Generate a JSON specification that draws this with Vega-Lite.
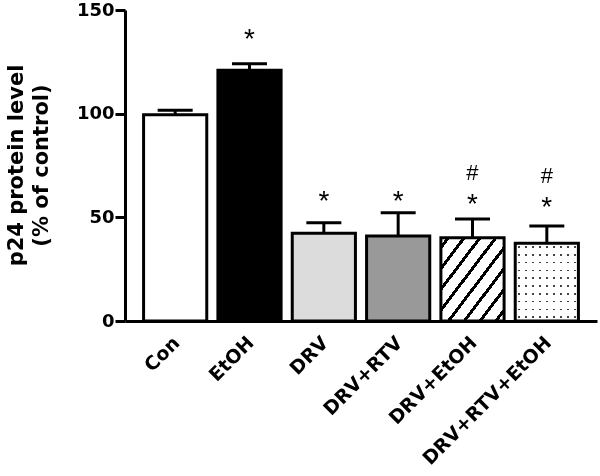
{
  "$schema": "https://vega.github.io/schema/vega-lite/v6.json",
  "width": 472,
  "height": 311,
  "autosize": {"type": "none"},
  "padding": {"left": 125, "top": 10, "right": 3, "bottom": 155},
  "background": "white",
  "config": {"view": {"stroke": null}, "font": "DejaVu Sans"},
  "resolve": {"axis": {"y": "independent"}},
  "data": {
    "values": [
      {"group": "Con", "value": 99.5, "upper": 101.6, "star": null, "hash": null},
      {"group": "EtOH", "value": 121, "upper": 124.1, "star": 137, "hash": null},
      {"group": "DRV", "value": 42.3, "upper": 47.4, "star": 58.8, "hash": null},
      {"group": "DRV+RTV", "value": 41, "upper": 52.2, "star": 58.8, "hash": null},
      {"group": "DRV+EtOH", "value": 40.2, "upper": 49.2, "star": 57.3, "hash": 71},
      {"group": "DRV+RTV+EtOH", "value": 37.5, "upper": 45.8, "star": 56, "hash": 69.5}
    ]
  },
  "encoding": {
    "x": {
      "field": "group",
      "type": "nominal",
      "sort": null,
      "scale": {"paddingInner": 0.15, "paddingOuter": 0.25},
      "axis": {
        "title": null,
        "ticks": false,
        "domainWidth": 3,
        "domainColor": "black",
        "labelAngle": -45,
        "labelFont": "DejaVu Sans",
        "labelFontWeight": "bold",
        "labelFontSize": 19,
        "labelColor": "black",
        "labelPadding": 12,
        "labelOffset": -5,
        "labelLimit": 0
      }
    }
  },
  "layer": [
    {
      "mark": {"type": "bar", "strokeWidth": 0},
      "encoding": {
        "y": {
          "field": "value",
          "type": "quantitative",
          "scale": {"domain": [0, 150], "nice": false, "zero": true},
          "axis": {
            "values": [0, 50, 100, 150],
            "grid": false,
            "domainWidth": 3,
            "domainColor": "black",
            "tickWidth": 3,
            "tickSize": 10,
            "tickColor": "black",
            "labelFont": "DejaVu Sans",
            "labelFontWeight": "bold",
            "labelFontSize": 18,
            "labelColor": "black",
            "labelPadding": 1,
            "title": ["p24 protein level", "(% of control)"],
            "titleFont": "DejaVu Sans",
            "titleFontWeight": "bold",
            "titleFontSize": 21,
            "titleColor": "black",
            "titleAngle": -90,
            "titleX": -120,
            "titleY": 155,
            "titleAlign": "center",
            "titleBaseline": "top",
            "titleLineHeight": 25
          }
        },
        "fill": {
          "field": "group",
          "type": "nominal",
          "scale": {
            "domain": ["Con", "EtOH", "DRV", "DRV+RTV", "DRV+EtOH", "DRV+RTV+EtOH"],
            "range": ["white", "black", "#dcdcdc", "#999999", "white", "white"]
          },
          "legend": null
        }
      }
    },
    {
      "transform": [{"filter": "datum.group == 'DRV+EtOH'"}],
      "mark": {
        "type": "bar",
        "strokeWidth": 0,
        "fill": {
          "gradient": "linear",
          "x1": 0, "y1": 0, "x2": 1, "y2": 1,
          "stops": [
            {"offset": 0, "color": "white"},
            {"offset": 0.045, "color": "white"}, {"offset": 0.045, "color": "black"}, {"offset": 0.075, "color": "black"}, {"offset": 0.075, "color": "white"},
            {"offset": 0.17, "color": "white"}, {"offset": 0.17, "color": "black"}, {"offset": 0.2, "color": "black"}, {"offset": 0.2, "color": "white"},
            {"offset": 0.295, "color": "white"}, {"offset": 0.295, "color": "black"}, {"offset": 0.325, "color": "black"}, {"offset": 0.325, "color": "white"},
            {"offset": 0.42, "color": "white"}, {"offset": 0.42, "color": "black"}, {"offset": 0.45, "color": "black"}, {"offset": 0.45, "color": "white"},
            {"offset": 0.545, "color": "white"}, {"offset": 0.545, "color": "black"}, {"offset": 0.575, "color": "black"}, {"offset": 0.575, "color": "white"},
            {"offset": 0.67, "color": "white"}, {"offset": 0.67, "color": "black"}, {"offset": 0.7, "color": "black"}, {"offset": 0.7, "color": "white"},
            {"offset": 0.795, "color": "white"}, {"offset": 0.795, "color": "black"}, {"offset": 0.825, "color": "black"}, {"offset": 0.825, "color": "white"},
            {"offset": 0.92, "color": "white"}, {"offset": 0.92, "color": "black"}, {"offset": 0.95, "color": "black"}, {"offset": 0.95, "color": "white"},
            {"offset": 1, "color": "white"}
          ]
        }
      },
      "encoding": {"y": {"field": "value", "type": "quantitative", "axis": null}}
    },
    {
      "transform": [{"filter": "datum.group == 'DRV+RTV+EtOH'"}],
      "mark": {
        "type": "bar",
        "strokeWidth": 0,
        "fill": {
          "gradient": "linear",
          "x1": 0, "y1": 0, "x2": 0, "y2": 1,
          "stops": [
            {"offset": 0, "color": "white"},
            {"offset": 0.04, "color": "white"}, {"offset": 0.04, "color": "#444"}, {"offset": 0.06, "color": "#444"}, {"offset": 0.06, "color": "white"},
            {"offset": 0.14, "color": "white"}, {"offset": 0.14, "color": "#444"}, {"offset": 0.16, "color": "#444"}, {"offset": 0.16, "color": "white"},
            {"offset": 0.24, "color": "white"}, {"offset": 0.24, "color": "#444"}, {"offset": 0.26, "color": "#444"}, {"offset": 0.26, "color": "white"},
            {"offset": 0.34, "color": "white"}, {"offset": 0.34, "color": "#444"}, {"offset": 0.36, "color": "#444"}, {"offset": 0.36, "color": "white"},
            {"offset": 0.44, "color": "white"}, {"offset": 0.44, "color": "#444"}, {"offset": 0.46, "color": "#444"}, {"offset": 0.46, "color": "white"},
            {"offset": 0.54, "color": "white"}, {"offset": 0.54, "color": "#444"}, {"offset": 0.56, "color": "#444"}, {"offset": 0.56, "color": "white"},
            {"offset": 0.64, "color": "white"}, {"offset": 0.64, "color": "#444"}, {"offset": 0.66, "color": "#444"}, {"offset": 0.66, "color": "white"},
            {"offset": 0.74, "color": "white"}, {"offset": 0.74, "color": "#444"}, {"offset": 0.76, "color": "#444"}, {"offset": 0.76, "color": "white"},
            {"offset": 0.84, "color": "white"}, {"offset": 0.84, "color": "#444"}, {"offset": 0.86, "color": "#444"}, {"offset": 0.86, "color": "white"},
            {"offset": 0.94, "color": "white"}, {"offset": 0.94, "color": "#444"}, {"offset": 0.96, "color": "#444"}, {"offset": 0.96, "color": "white"},
            {"offset": 1, "color": "white"}
          ]
        }
      },
      "encoding": {"y": {"field": "value", "type": "quantitative", "axis": null}}
    },
    {
      "transform": [{"filter": "datum.group == 'DRV+RTV+EtOH'"}],
      "mark": {
        "type": "bar",
        "strokeWidth": 0,
        "blend": "lighten",
        "fill": {
          "gradient": "linear",
          "x1": 0, "y1": 0, "x2": 1, "y2": 0,
          "stops": [
            {"offset": 0, "color": "white"},
            {"offset": 0.044, "color": "white"}, {"offset": 0.044, "color": "#444"}, {"offset": 0.068, "color": "#444"}, {"offset": 0.068, "color": "white"},
            {"offset": 0.155, "color": "white"}, {"offset": 0.155, "color": "#444"}, {"offset": 0.179, "color": "#444"}, {"offset": 0.179, "color": "white"},
            {"offset": 0.266, "color": "white"}, {"offset": 0.266, "color": "#444"}, {"offset": 0.29, "color": "#444"}, {"offset": 0.29, "color": "white"},
            {"offset": 0.377, "color": "white"}, {"offset": 0.377, "color": "#444"}, {"offset": 0.401, "color": "#444"}, {"offset": 0.401, "color": "white"},
            {"offset": 0.488, "color": "white"}, {"offset": 0.488, "color": "#444"}, {"offset": 0.512, "color": "#444"}, {"offset": 0.512, "color": "white"},
            {"offset": 0.599, "color": "white"}, {"offset": 0.599, "color": "#444"}, {"offset": 0.623, "color": "#444"}, {"offset": 0.623, "color": "white"},
            {"offset": 0.71, "color": "white"}, {"offset": 0.71, "color": "#444"}, {"offset": 0.734, "color": "#444"}, {"offset": 0.734, "color": "white"},
            {"offset": 0.821, "color": "white"}, {"offset": 0.821, "color": "#444"}, {"offset": 0.845, "color": "#444"}, {"offset": 0.845, "color": "white"},
            {"offset": 0.932, "color": "white"}, {"offset": 0.932, "color": "#444"}, {"offset": 0.956, "color": "#444"}, {"offset": 0.956, "color": "white"},
            {"offset": 1, "color": "white"}
          ]
        }
      },
      "encoding": {"y": {"field": "value", "type": "quantitative", "axis": null}}
    },
    {
      "mark": {"type": "bar", "fill": "white", "fillOpacity": 0, "stroke": "black", "strokeWidth": 3},
      "encoding": {"y": {"field": "value", "type": "quantitative", "axis": null}}
    },
    {
      "mark": {"type": "rule", "color": "black", "strokeWidth": 3},
      "encoding": {
        "y": {"field": "value", "type": "quantitative", "axis": null},
        "y2": {"field": "upper"}
      }
    },
    {
      "mark": {"type": "tick", "color": "black", "size": 35, "thickness": 3, "opacity": 1},
      "encoding": {"y": {"field": "upper", "type": "quantitative", "axis": null}}
    },
    {
      "transform": [{"filter": "datum.star != null"}],
      "mark": {"type": "text", "text": "*", "font": "Liberation Sans", "fontSize": 28, "color": "black", "baseline": "alphabetic", "dy": 11},
      "encoding": {"y": {"field": "star", "type": "quantitative", "axis": null}}
    },
    {
      "transform": [{"filter": "datum.hash != null"}],
      "mark": {"type": "text", "text": "#", "font": "Liberation Sans", "fontSize": 22, "color": "black", "baseline": "alphabetic", "dy": 6},
      "encoding": {"y": {"field": "hash", "type": "quantitative", "axis": null}}
    }
  ]
}
